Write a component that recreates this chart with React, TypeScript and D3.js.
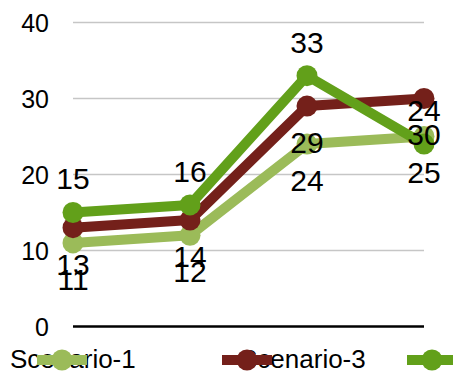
import React from "react";
import * as d3 from "d3";

const categories = ["P1", "P2", "P3", "P4"];
const seriesNames = ["Scenario-1", "Scenario-3", "Scenario-5"];
const scenario1 = [11, 12, 24, 25];
const scenario3 = [13, 14, 29, 30];
const scenario5 = [15, 16, 33, 24];
const yTicks = [0, 10, 20, 30, 40];

const colors = ["#9BBB59", "#74201A", "#62A01A"];
const labelAbove = [false, false, true];

const W = 453;
const H = 374;

export default function App() {
  const x = d3.scalePoint<string>().domain(categories).range([73, 424]).padding(0);
  const y = d3.scaleLinear().domain([0, 40]).range([326.5, 22.5]);
  const series = [scenario1, scenario3, scenario5];
  const line = d3
    .line<number>()
    .x((_, i) => x(categories[i]) as number)
    .y((d) => y(d));
  const font = "'Liberation Sans', Arial, sans-serif";

  return (
    <svg
      width={W}
      height={H}
      style={{ position: "absolute", left: 0, top: 0 }}
      fontFamily={font}
    >
      <rect width={W} height={H} fill="#fff" />
      {yTicks.map((t) => (
        <g key={t}>
          {t !== 0 && (
            <line x1={73} x2={424} y1={y(t)} y2={y(t)} stroke="#C6C6C6" strokeWidth={1.5} />
          )}
          <text x={49} y={y(t)} dy="0.36em" textAnchor="end" fontSize={25} fill="#000">
            {t}
          </text>
        </g>
      ))}
      <line x1={73} x2={424} y1={y(0)} y2={y(0)} stroke="#000" strokeWidth={2.5} />

      {series.map((vals, si) => (
        <g key={si}>
          <path d={line(vals) ?? ""} fill="none" stroke={colors[si]} strokeWidth={10} strokeLinejoin="round" />
          {vals.map((v, i) => (
            <circle key={i} cx={x(categories[i])} cy={y(v)} r={10.5} fill={colors[si]} />
          ))}
        </g>
      ))}

      {series.map((vals, si) =>
        vals.map((v, i) => (
          <text
            key={`${si}-${i}`}
            x={x(categories[i])}
            y={y(v) + (labelAbove[si] ? -34 : 36)}
            dy="0.36em"
            textAnchor="middle"
            fontSize={30}
            fill="#000"
          >
            {v}
          </text>
        ))
      )}

      {seriesNames.map((name, i) => {
        const tx = 10 + 230 * i;
        const cx = 62 + 185 * i;
        return (
          <g key={name}>
            <text x={tx} y={359} dy="0.36em" fontSize={26} fill="#000">
              {name}
            </text>
            <line x1={cx - 25} x2={cx + 25} y1={360} y2={360} stroke={colors[i]} strokeWidth={10} />
            <circle cx={cx} cy={360} r={10.5} fill={colors[i]} />
          </g>
        );
      })}
    </svg>
  );
}
